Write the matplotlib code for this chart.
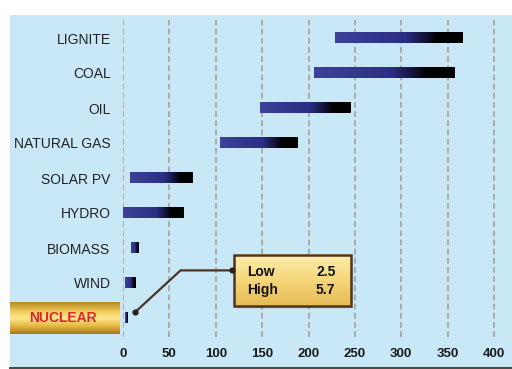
import numpy as np
import matplotlib
matplotlib.use("Agg")
import matplotlib.pyplot as plt
from matplotlib.colors import LinearSegmentedColormap
from matplotlib.patches import Rectangle, FancyBboxPatch

categories = ["LIGNITE", "COAL", "OIL", "NATURAL GAS", "SOLAR PV", "HYDRO",
              "BIOMASS", "WIND", "NUCLEAR"]
low_vals = [229, 206, 148, 105, 7.5, 0, 8.6, 2, 2.5]
high_vals = [366, 357, 246, 189, 75, 65, 17, 13, 5.7]
xticks = [0, 50, 100, 150, 200, 250, 300, 350, 400]
box_labels = ["Low", "High"]
box_values = ["2.5", "5.7"]

W, H = 512, 369
fig = plt.figure(figsize=(W / 100, H / 100), dpi=100, facecolor="white")
plt.rcParams["font.family"] = ["Liberation Sans", "DejaVu Sans"]

# light blue panel
bg = fig.add_axes([0, 0, 1, 1], zorder=0)
bg.set_xlim(0, W); bg.set_ylim(H, 0); bg.axis("off")
bg.add_patch(Rectangle((10, 15), W - 10, 352, facecolor="#c8e8f8", edgecolor="none"))
bg.plot([10, W], [367.5, 367.5], color="#4a4a4a", lw=2.2)

# gold band behind NUCLEAR label
gold = LinearSegmentedColormap.from_list("gold", [(0, "#b98a25"), (0.3, "#f3cd5c"),
                                                  (0.5, "#fde98e"), (0.75, "#e6b844"),
                                                  (1, "#a87a20")])
gy = np.linspace(0, 1, 64).reshape(-1, 1)
bg.imshow(gy, extent=(10, 120, 334, 302), cmap=gold, aspect="auto", zorder=1)

# main axes
x0_px, x400_px = 123, 494
ppu = (x400_px - x0_px) / 400.0
xmax = (W - 2 - x0_px) / ppu
top_px, bot_px = 20, 337
row0_px, step_px = 38, 35
ymin = (top_px - row0_px) / step_px
ymax = (bot_px - row0_px) / step_px
ax = fig.add_axes([x0_px / W, 1 - bot_px / H, (W - 2 - x0_px) / W, (bot_px - top_px) / H],
                  zorder=2)
ax.patch.set_alpha(0)
for s in ax.spines.values():
    s.set_visible(False)

for xt in xticks:
    ax.axvline(xt, color="#a99f9c", lw=1.2, ls=(0, (3.5, 2)), zorder=1)

bar_cmap = LinearSegmentedColormap.from_list(
    "bar", [(0, "#3d4199"), (0.55, "#2b2e82"), (0.72, "#101030"), (0.8, "#000000"), (1, "#000000")])
bar_h = 0.3
grad = np.linspace(0, 1, 256).reshape(1, -1)
for i, (lo, hi) in enumerate(zip(low_vals, high_vals)):
    ax.imshow(grad, extent=(lo, hi, i + bar_h / 2, i - bar_h / 2), cmap=bar_cmap,
              aspect="auto", zorder=3, interpolation="bilinear")

ax.set_xlim(0, xmax)
ax.set_ylim(ymax, ymin)
ax.set_xticks(xticks)
ax.set_xticklabels([str(t) for t in xticks], fontsize=9.5, fontweight="bold", color="#1a1a1a")
ax.set_yticks(range(len(categories)))
ax.set_yticklabels(categories, fontsize=10, color="#222222")
ax.tick_params(axis="both", length=0)
ax.tick_params(axis="x", pad=8)
ax.tick_params(axis="y", pad=9)
ax.get_yticklabels()[-1].set_visible(False)
fig.text(63 / W, 1 - 318 / H, categories[-1], color="#e02530", fontsize=10,
         fontweight="bold", ha="center", va="center", zorder=5)

# callout box
n = len(categories) - 1
bx0, bx1 = 119.5, 246
by0, by1 = 6.2, 7.66
shadow = FancyBboxPatch((bx0 + 1.5, by0 + 0.06), bx1 - bx0, by1 - by0,
                        boxstyle="round,pad=0,rounding_size=1", facecolor="#7a6a50",
                        edgecolor="none", alpha=0.5, zorder=4)
ax.add_patch(shadow)
box_cmap = LinearSegmentedColormap.from_list("box", ["#fdf0b0", "#f5d67a", "#e6bb55"])
ax.imshow(np.linspace(0, 1, 64).reshape(-1, 1), extent=(bx0, bx1, by1, by0),
          cmap=box_cmap, aspect="auto", zorder=5)
ax.add_patch(Rectangle((bx0, by0), bx1 - bx0, by1 - by0, facecolor="none",
                       edgecolor="#4e3620", lw=1.8, zorder=6))
for k, (lab, val) in enumerate(zip(box_labels, box_values)):
    yy = by0 + 0.49 + k * 0.52
    ax.text(bx0 + 14, yy, lab, fontsize=10, fontweight="bold", color="#111111",
            va="center", ha="left", zorder=7)
    ax.text(bx1 - 17, yy, val, fontsize=10, fontweight="bold", color="#111111",
            va="center", ha="right", zorder=7)

# connector
cx = [high_vals[n] + 7.5, 62, bx0 - 1.5]
cy = [n - 0.17, by0 + 0.44, by0 + 0.44]
ax.plot(cx, cy, color="#4a3424", lw=1.6, zorder=6, solid_capstyle="round")
ax.plot([cx[0], cx[-1]], [cy[0], cy[-1]], "o", color="#2e2018", ms=3.5, zorder=6)

ax.set_xlim(0, xmax)
ax.set_ylim(ymax, ymin)
fig.savefig("out.png", dpi=100, facecolor="white")
